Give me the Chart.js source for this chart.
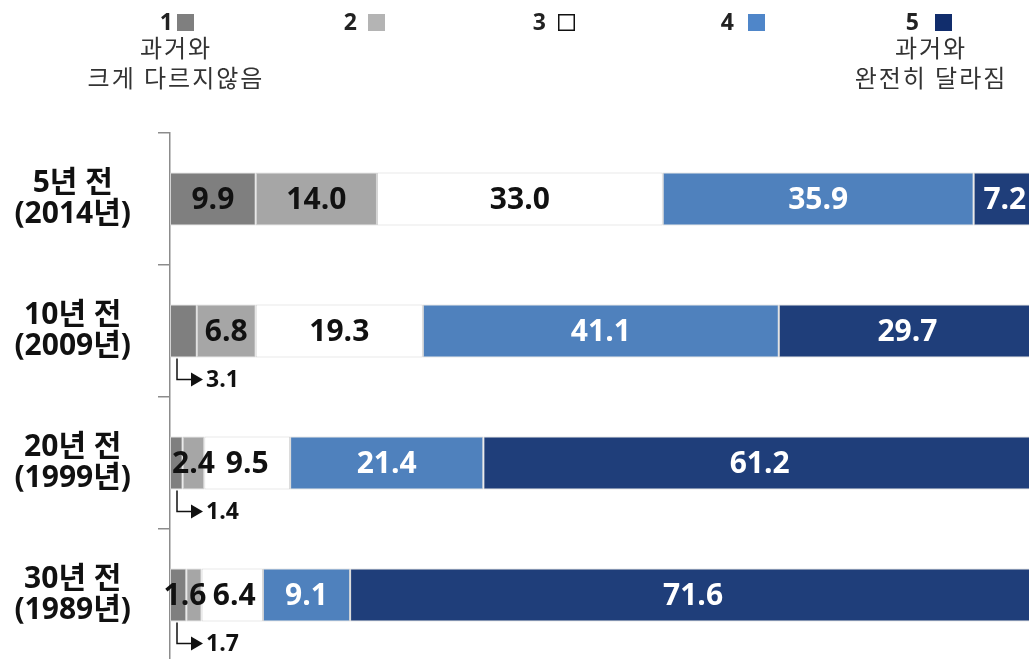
<!DOCTYPE html>
<html>
<head>
<meta charset="utf-8">
<script src="https://cdn.jsdelivr.net/npm/chart.js@4"></script>
<style>
html, body { margin: 0; padding: 0; background: #fff; overflow: hidden; }
#wrap { position: absolute; left: 0; top: 0; width: 1040px; height: 665px; }
</style>
</head>
<body>
<div id="wrap"><canvas id="myChart" width="1040" height="665"></canvas></div>
<script>
// data
const categories = [['5년 전', '(2014년)'], ['10년 전', '(2009년)'], ['20년 전', '(1999년)'], ['30년 전', '(1989년)']]
const answer1 = [9.9, 3.1, 1.4, 1.7]
const answer2 = [14.0, 6.8, 2.4, 1.6]
const answer3 = [33.0, 19.3, 9.5, 6.4]
const answer4 = [35.9, 41.1, 21.4, 9.1]
const answer5 = [7.2, 29.7, 61.2, 71.6]
const legendNames = ['1', '2', '3', '4', '5']
const legendNotes = [['과거와', '크게 다르지않음'], [], [], [], ['과거와', '완전히 달라짐']]
// rows where the first value is written below the bar with an arrow
const calloutRows = [1, 2, 3]

const FONT = '"Open Sans", "Noto Sans CJK KR", sans-serif'
const barColors = ['#7f7f7f', '#a6a6a6', '#ffffff', '#4f81bd', '#1f3e7a']
const legendColors = ['#7f7f7f', '#b4b4b4', '#ffffff', '#4f86c9', '#112d6c']
const labelColors = ['#111', '#111', '#111', '#fff', '#fff']

const allRaw = [answer1, answer2, answer3, answer4, answer5]

// bars are drawn as shares of each row (100% stacked)
const rowTotals = categories.map((c, i) => allRaw.reduce((s, arr) => s + arr[i], 0))
const toShare = arr => arr.map((v, i) => v / rowTotals[i] * 100)

// narrow segments: move label a bit so neighbours don't collide
const nudge = (di, i) => (di === 1 && i === 3) ? -9 : (di === 2 && i === 3) ? 2 : 0

const labelPlugin = {
	id: 'valueLabels',
	afterDatasetsDraw(chart) {
		const ctx = chart.ctx
		ctx.save()
		ctx.textBaseline = 'middle'
		chart.data.datasets.forEach((ds, di) => {
			const meta = chart.getDatasetMeta(di)
			meta.data.forEach((bar, i) => {
				const text = ds.raw[i].toFixed(1)
				if (di === 0 && calloutRows.includes(i)) {
					const x0 = bar.base + 7
					const yTop = bar.y + bar.height / 2 + 1
					const yArrow = yTop + 21
					ctx.strokeStyle = '#111'
					ctx.lineWidth = 1.5
					ctx.beginPath()
					ctx.moveTo(x0, yTop)
					ctx.lineTo(x0, yArrow)
					ctx.lineTo(x0 + 16, yArrow)
					ctx.stroke()
					ctx.fillStyle = '#111'
					ctx.beginPath()
					ctx.moveTo(x0 + 14, yArrow - 7)
					ctx.lineTo(x0 + 26, yArrow)
					ctx.lineTo(x0 + 14, yArrow + 7)
					ctx.closePath()
					ctx.fill()
					ctx.font = 'bold 23px ' + FONT
					ctx.textAlign = 'left'
					ctx.fillText(text, x0 + 29, yArrow + 1)
					return
				}
				ctx.font = 'bold 30px ' + FONT
				ctx.fillStyle = labelColors[di]
				ctx.textAlign = 'center'
				ctx.fillText(text, (bar.x + bar.base) / 2 + nudge(di, i), bar.y + 1)
			})
		})
		ctx.restore()
	}
}

// legend drawn on top, numbers + square, notes under first and last
const numRight = [173, 357, 546, 734, 919]
const squareLeft = [177, 368, 558, 748, 935]
const noteCenter = [176, 0, 0, 0, 931]

const legendPlugin = {
	id: 'topLegend',
	afterDraw(chart) {
		const ctx = chart.ctx
		ctx.save()
		ctx.textBaseline = 'middle'
		legendNames.forEach((name, i) => {
			ctx.font = 'bold 23px ' + FONT
			ctx.fillStyle = '#222'
			ctx.textAlign = 'right'
			ctx.fillText(name, numRight[i], 23)
			ctx.fillStyle = legendColors[i]
			ctx.fillRect(squareLeft[i], 14, 17, 17)
			if (i === 2) {
				ctx.strokeStyle = '#111'
				ctx.lineWidth = 1.5
				ctx.strokeRect(squareLeft[i] + 0.75, 14.75, 15.5, 15.5)
			}
			ctx.font = '24px ' + FONT
			ctx.letterSpacing = '2px'
			ctx.fillStyle = '#333'
			ctx.textAlign = 'center'
			legendNotes[i].forEach((line, k) => {
				ctx.fillText(line, noteCenter[i], 50 + k * 30)
			})
			ctx.letterSpacing = '0px'
		})
		ctx.restore()
	}
}

const datasets = allRaw.map((arr, di) => ({
	label: legendNames[di],
	data: toShare(arr),
	raw: arr,
	backgroundColor: barColors[di],
	borderColor: '#d4d4d4',
	borderWidth: 1,
	borderSkipped: false,
	barPercentage: 0.4,
	categoryPercentage: 1
}))

let ctx = document.getElementById('myChart').getContext('2d')

let myChart = new Chart(ctx, {
	type: 'bar',
	data: {
		labels: categories,
		datasets: datasets
	},
	options: {
		indexAxis: 'y',
		responsive: false,
		animation: false,
		devicePixelRatio: 1,
		layout: { padding: { top: 133, right: 4, bottom: 4, left: 0 } },
		plugins: {
			legend: { display: false },
			tooltip: { enabled: false }
		},
		scales: {
			x: { stacked: true, display: false, min: 0, max: 100 },
			y: {
				stacked: true,
				afterFit: s => {
					s.width = 170
					s.paddingTop = 0
					s.paddingBottom = 0
				},
				border: { display: true, color: '#8c8c8c', width: 1.5 },
				grid: {
					display: true,
					offset: true,
					drawOnChartArea: false,
					drawTicks: true,
					tickLength: 12,
					color: '#8c8c8c',
					lineWidth: 1.5
				},
				ticks: {
					crossAlign: 'center',
					padding: 27,
					color: '#111',
					font: { family: FONT, size: 30, weight: 'bold', lineHeight: 1.05 }
				}
			}
		}
	},
	plugins: [labelPlugin, legendPlugin]
})
</script>
</body>
</html>
